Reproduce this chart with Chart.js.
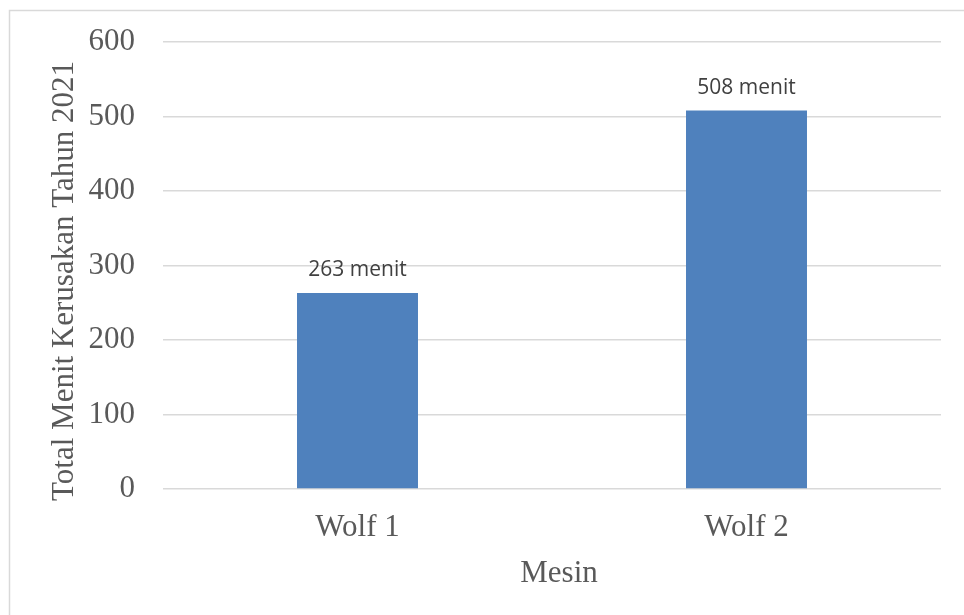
<!DOCTYPE html>
<html>
<head>
<meta charset="utf-8">
<script src="https://cdn.jsdelivr.net/npm/chart.js@4/dist/chart.umd.min.js"></script>
<style>
  html, body { margin: 0; padding: 0; background: #fff; }
  #wrap { width: 964px; height: 615px; }
</style>
</head>
<body>
<div id="wrap"><canvas id="chart" width="964" height="615"></canvas></div>
<script>
const categories = ['Wolf 1', 'Wolf 2'];
const values = [263, 508];
const labelSuffix = ' menit';
const yTitle = 'Total Menit Kerusakan Tahun 2021';
const xTitle = 'Mesin';

const serif = '"Liberation Serif", "Times New Roman", serif';
const gray = '#595959';

// frame, axis titles and value labels drawn on top of the chart
const extras = {
  id: 'extras',
  afterDraw(chart) {
    const ctx = chart.ctx;
    ctx.save();
    ctx.strokeStyle = '#d9d9d9';
    ctx.lineWidth = 1.5;
    ctx.strokeRect(9.5, 10.5, 1100, 1000);

    ctx.fillStyle = gray;
    ctx.font = '31px ' + serif;
    ctx.textAlign = 'center';
    ctx.textBaseline = 'alphabetic';
    ctx.fillText(xTitle, 559, 582);

    ctx.save();
    ctx.translate(73, 281);
    ctx.rotate(-Math.PI / 2);
    ctx.fillText(yTitle, 0, 0);
    ctx.restore();

    ctx.fillStyle = '#404040';
    ctx.font = '21px "Open Sans", sans-serif';
    chart.getDatasetMeta(0).data.forEach((bar, i) => {
      ctx.fillText(values[i] + labelSuffix, bar.x, bar.y - 17);
    });
    ctx.restore();
  },
};

new Chart(document.getElementById('chart'), {
  type: 'bar',
  data: {
    labels: categories,
    datasets: [{
      data: values,
      backgroundColor: '#4f81bd',
      borderWidth: 0,
      barPercentage: 0.311,
      categoryPercentage: 1,
    }],
  },
  options: {
    responsive: false,
    animation: false,
    layout: { padding: { left: 0, top: 42, right: 23, bottom: 0 } },
    plugins: { legend: { display: false }, tooltip: { enabled: false } },
    scales: {
      x: {
        grid: { display: false, drawTicks: false },
        border: { display: false },
        ticks: { color: gray, padding: 20, font: { family: serif, size: 31 } },
        afterFit(scale) { scale.height = 126; },
      },
      y: {
        min: 0,
        max: 600,
        ticks: { stepSize: 100, color: gray, padding: 28, font: { family: serif, size: 31 } },
        grid: { color: '#d9d9d9', lineWidth: 1.5, drawTicks: false },
        border: { display: false },
        afterFit(scale) {
          scale.width = 163;
          scale.paddingTop = 0;
          scale.paddingBottom = 0;
        },
      },
    },
  },
  plugins: [extras],
});
</script>
</body>
</html>
